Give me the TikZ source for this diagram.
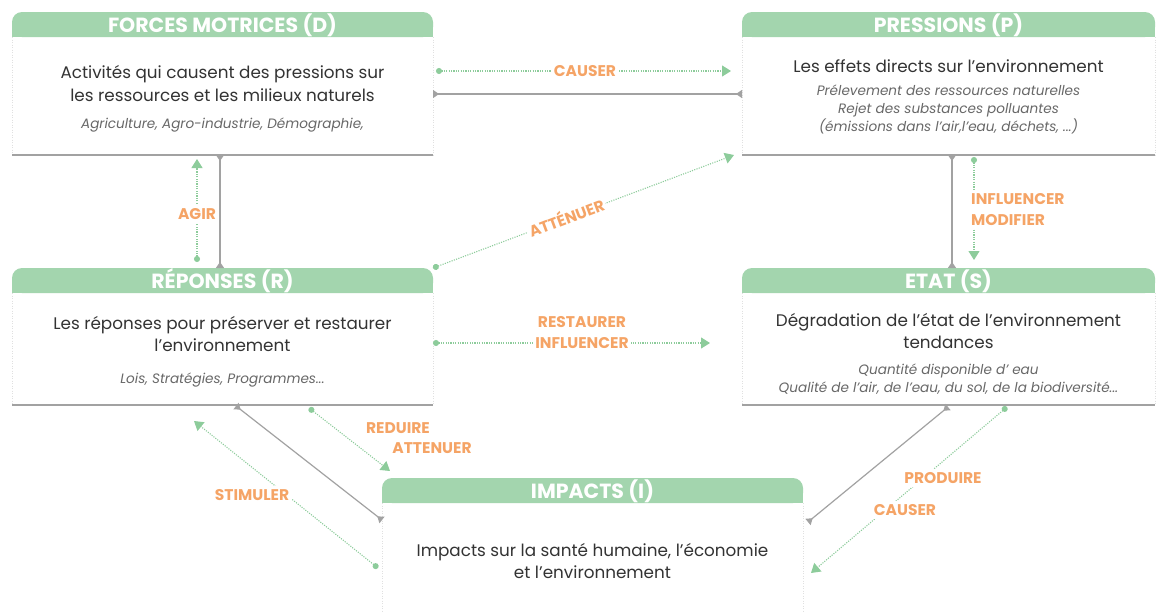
\documentclass[tikz,border=0pt]{standalone}
\usepackage{fontspec}
\setmainfont{Poppins}
\usetikzlibrary{arrows.meta}
\definecolor{hdrgreen}{HTML}{A3D5AE}
\definecolor{dotgreen}{HTML}{8DCC9B}
\definecolor{orangec}{HTML}{F5A466}
\definecolor{graycol}{HTML}{A2A2A2}
\definecolor{txtcol}{HTML}{333333}
\definecolor{itcol}{HTML}{686868}
\newcommand\mkbox[6]{%
  \fill[hdrgreen, rounded corners=10pt] (#2,#4) rectangle (#3,#4+25);
  \fill[hdrgreen] (#2,#4+13) rectangle (#3,#4+25);
  \draw[side] (#2,#4+25) -- (#2,#5);
  \draw[side] (#3,#4+25) -- (#3,#5);
  \node[boxarea, minimum width={#3-#2}, minimum height={#5-#4}] (#1) at (#2,#4) {};
  \node[hdrtext] (#1h) at ({(#2+#3)/2},#4+13) {#6};
}
\begin{document}
\begin{tikzpicture}[x=1pt,y=-1pt,
  hdrtext/.style={text=white, font=\bfseries\fontsize{20.5}{22}\selectfont, inner sep=0pt},
  maintext/.style={text=txtcol, font=\fontsize{16.8}{22.5}\selectfont, align=center, inner sep=0pt},
  ittext/.style={text=itcol, font=\itshape\fontsize{13.6}{17.7}\selectfont, align=center, inner sep=0pt},
  lbl/.style={text=orangec, font=\bfseries\fontsize{15.5}{21}\selectfont, fill=white, inner sep=3pt, align=left},
  gline/.style={draw=graycol, line width=1.2pt, {Triangle[reversed,width=8pt,length=6pt]}-{Triangle[reversed,width=8pt,length=6pt]}},
  dline/.style={draw=dotgreen, line width=1.1pt, dash pattern=on 1.1pt off 1.3pt, {Circle[length=6pt]}-{Triangle[width=11pt,length=9pt]}},
  side/.style={draw=black!12, dotted, line width=0.5pt},
  bottom/.style={draw=graycol, line width=1.6pt},
  boxarea/.style={inner sep=0pt, outer sep=0pt, anchor=north west}
]
\fill[white] (0,0) rectangle (1157,611);
\useasboundingbox (0,0) rectangle (1157,611);

% ---- boxes
\mkbox{D}{12}{433}{12}{155}{FORCES MOTRICES (D)}
\draw[bottom] (12,155) -- (433,155);
\node[maintext] (Dm) at (222.5,83.5) {Activités qui causent des pressions sur\\les ressources et les milieux naturels};
\node[ittext] (Di) at (222.5,125) {Agriculture, Agro-industrie, Démographie,};

\mkbox{P}{742}{1155}{12}{155}{PRESSIONS (P)}
\draw[bottom] (742,155) -- (1155,155);
\node[maintext] (Pm) at (948.5,66) {Les effets directs sur l’environnement};
\node[ittext] (Pi) at (948.5,109.5) {Prélevement des ressources naturelles\\Rejet des substances polluantes\\(émissions dans l’air,l’eau, déchets, ...)};

\mkbox{R}{12}{433}{268}{405}{RÉPONSES (R)}
\draw[bottom] (12,405) -- (433,405);
\node[maintext] (Rm) at (222.5,334) {Les réponses pour préserver et restaurer\\l’environnement};
\node[ittext] (Ri) at (222.5,380) {Lois, Stratégies, Programmes...};

\mkbox{S}{742}{1155}{268}{405}{ETAT (S)}
\draw[bottom] (742,405) -- (1155,405);
\node[maintext] (Sm) at (948.5,331) {Dégradation de l’état de l’environnement\\tendances};
\node[ittext] (Si) at (948.5,379) {Quantité disponible d’ eau\\Qualité de l’air, de l’eau, du sol, de la biodiversité...};

\mkbox{I}{382}{803}{478}{611}{IMPACTS (I)}
\node[maintext] (Im) at (592.5,561) {Impacts sur la santé humaine, l’économie\\et l’environnement};

% ---- connector end points
\coordinate (cA) at (436,71);  \coordinate (cB) at (731,71);
\coordinate (gA) at (433,94);  \coordinate (gB) at (742,94);
\coordinate (aA) at (197,262); \coordinate (aB) at (197,159);
\coordinate (gC) at (220,155); \coordinate (gD) at (220,268);
\coordinate (tA) at (433,268); \coordinate (tB) at (734,155);
\coordinate (gE) at (952,155); \coordinate (gF) at (952,268);
\coordinate (mA) at (974,157); \coordinate (mB) at (974,260);
\coordinate (rA) at (433,343); \coordinate (rB) at (710,343);
\coordinate (eA) at (309,408); \coordinate (eB) at (390,471);
\coordinate (gG) at (236,406); \coordinate (gH) at (382,520);
\coordinate (sA) at (378,568); \coordinate (sB) at (194,421);
\coordinate (gI) at (948,407); \coordinate (gJ) at (808,522);
\coordinate (pA) at (1007,407); \coordinate (pB) at (811,573);

% ---- gray links
\draw[gline] (gA) -- (gB);
\draw[gline] (gC) -- (gD);
\draw[gline] (gE) -- (gF);
\draw[gline] (gG) -- (gH);
\draw[gline] (gI) -- (gJ);

% ---- green dotted arrows
\draw[dline] (cA) -- (cB);
\draw[dline] (aA) -- (aB);
\draw[dline] (tA) -- (tB);
\draw[dline] (mA) -- (mB);
\draw[dline] (rA) -- (rB);
\draw[dline] (eA) -- (eB);
\draw[dline] (sA) -- (sB);
\draw[dline] (pA) -- (pB);

% ---- labels
\node[lbl] (lcauser) at (585,71) {CAUSER};
\node[lbl] (lagir) at (197,214) {AGIR};
\node[lbl, rotate=20.6, inner sep=2pt] (lattenuer) at (566,217) {ATTÉNUER};
\node[lbl, anchor=west, inner sep=2pt] (linfl) at (969,209.5) {INFLUENCER\\MODIFIER};
\node[lbl, align=center, inner sep=2pt] (lrest) at (582,332.5) {RESTAURER\\INFLUENCER};
\node[lbl, fill=none] (lred) at (398,428) {REDUIRE};
\node[lbl, fill=none] (latt) at (432,448) {ATTENUER};
\node[lbl] (lstim) at (252,495) {STIMULER};
\node[lbl] (lprod) at (943,478) {PRODUIRE};
\node[lbl] (lcaus2) at (905,510) {CAUSER};
\end{tikzpicture}
\end{document}
